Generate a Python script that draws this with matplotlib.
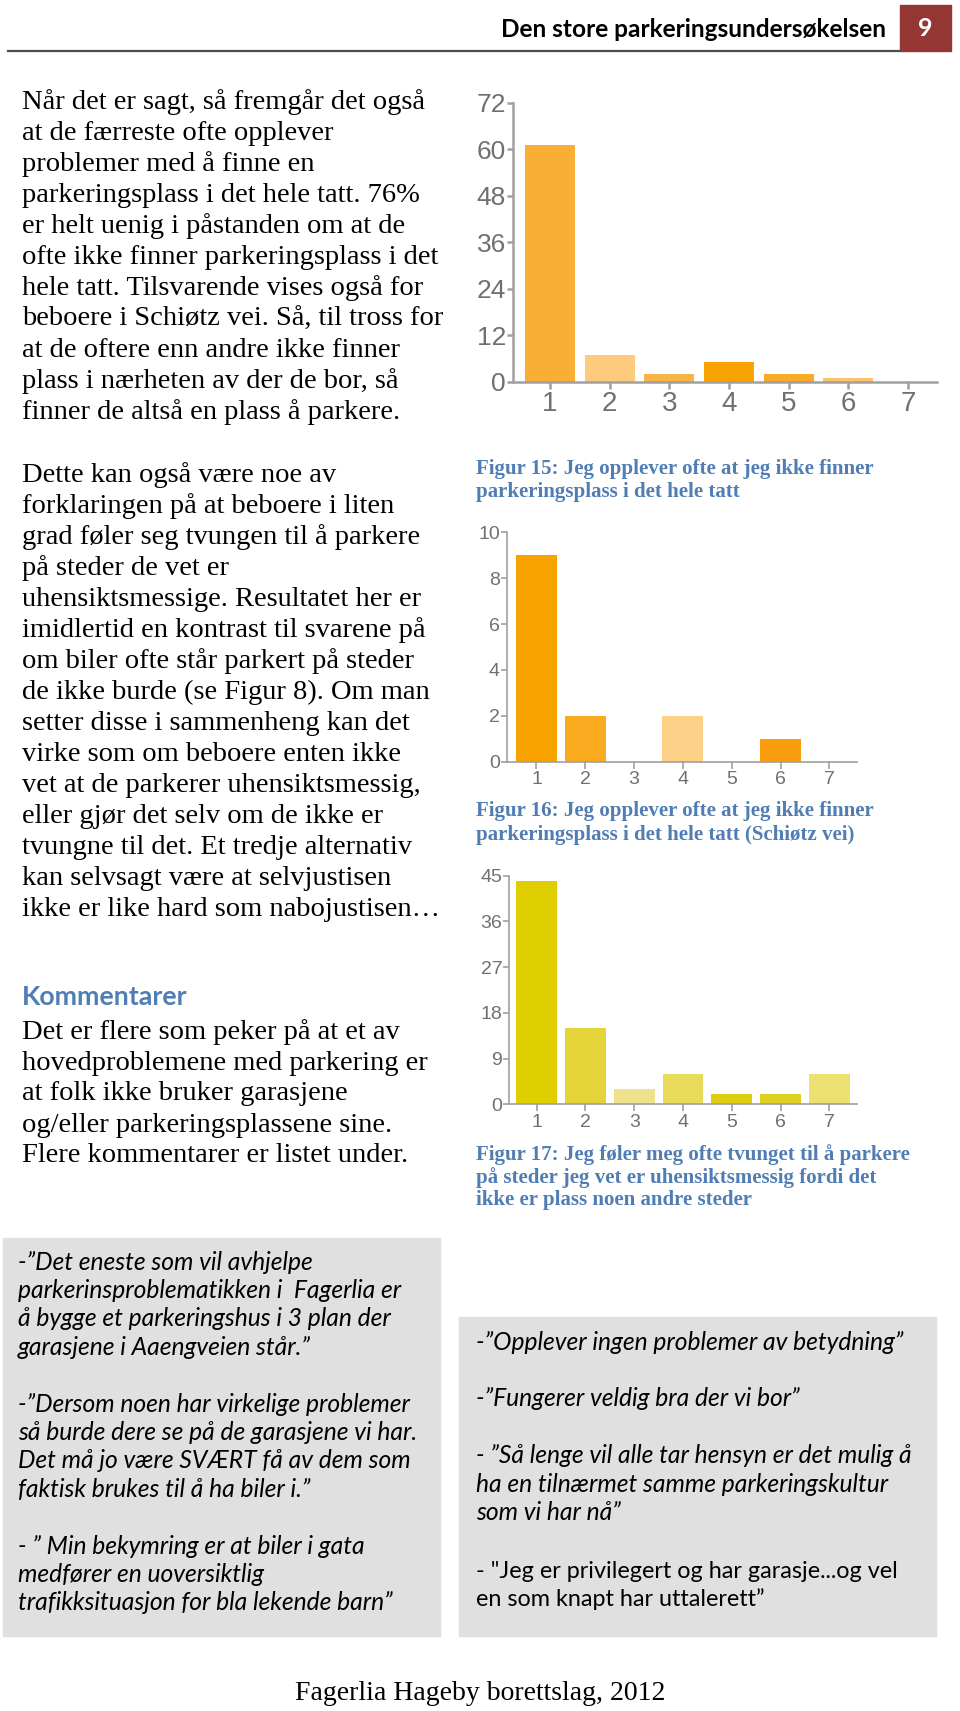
import matplotlib.pyplot as plt
from matplotlib.patches import Rectangle

# Data: number of answers on the 1-7 scale
scale = [1, 2, 3, 4, 5, 6, 7]
fig15_counts = [61, 7, 2, 5, 2, 1, 0]
fig16_counts = [9, 2, 0, 2, 0, 1, 0]
fig17_counts = [44, 15, 3, 6, 2, 2, 6]
fig15_ticks = [0, 12, 24, 36, 48, 60, 72]
fig16_ticks = [0, 2, 4, 6, 8, 10]
fig17_ticks = [0, 9, 18, 27, 36, 45]

fig15_colors = ['#F9AE36', '#FECB7C', '#F9B448', '#F8A203', '#F9AB26', '#FBC46C', '#FBC46C']
fig16_colors = ['#F9A300', '#F9AA1E', '#F9A300', '#FDD088', '#F9A300', '#F99D0E', '#F9A300']
fig17_colors = ['#DFCF00', '#E4D43A', '#EEE38A', '#E8DB5A', '#DFCE10', '#E0D020', '#EBE070']

para1 = ['Når det er sagt, så fremgår det også',
         'at de færreste ofte opplever',
         'problemer med å finne en',
         'parkeringsplass i det hele tatt. 76%',
         'er helt uenig i påstanden om at de',
         'ofte ikke finner parkeringsplass i det',
         'hele tatt. Tilsvarende vises også for',
         'beboere i Schiøtz vei. Så, til tross for',
         'at de oftere enn andre ikke finner',
         'plass i nærheten av der de bor, så',
         'finner de altså en plass å parkere.']
para2 = ['Dette kan også være noe av',
         'forklaringen på at beboere i liten',
         'grad føler seg tvungen til å parkere',
         'på steder de vet er',
         'uhensiktsmessige. Resultatet her er',
         'imidlertid en kontrast til svarene på',
         'om biler ofte står parkert på steder',
         'de ikke burde (se Figur 8). Om man',
         'setter disse i sammenheng kan det',
         'virke som om beboere enten ikke',
         'vet at de parkerer uhensiktsmessig,',
         'eller gjør det selv om de ikke er',
         'tvungne til det. Et tredje alternativ',
         'kan selvsagt være at selvjustisen',
         'ikke er like hard som nabojustisen…']
para3 = ['Det er flere som peker på at et av',
         'hovedproblemene med parkering er',
         'at folk ikke bruker garasjene',
         'og/eller parkeringsplassene sine.',
         'Flere kommentarer er listet under.']

cap15 = ['Figur 15: Jeg opplever ofte at jeg ikke finner',
         'parkeringsplass i det hele tatt']
cap16 = ['Figur 16: Jeg opplever ofte at jeg ikke finner',
         'parkeringsplass i det hele tatt (Schiøtz vei)']
cap17 = ['Figur 17: Jeg føler meg ofte tvunget til å parkere',
         'på steder jeg vet er uhensiktsmessig fordi det',
         'ikke er plass noen andre steder']

left_quotes = ['-”Det eneste som vil avhjelpe',
               'parkerinsproblematikken i  Fagerlia er',
               'å bygge et parkeringshus i 3 plan der',
               'garasjene i Aaengveien står.”',
               '',
               '-”Dersom noen har virkelige problemer',
               'så burde dere se på de garasjene vi har.',
               'Det må jo være SVÆRT få av dem som',
               'faktisk brukes til å ha biler i.”',
               '',
               '- ” Min bekymring er at biler i gata',
               'medfører en uoversiktlig',
               'trafikksituasjon for bla lekende barn”']
right_quotes = ['-”Opplever ingen problemer av betydning”',
                '',
                '-”Fungerer veldig bra der vi bor”',
                '',
                '- ”Så lenge vil alle tar hensyn er det mulig å',
                'ha en tilnærmet samme parkeringskultur',
                'som vi har nå”',
                '',
                '- "Jeg er privilegert og har garasje...og vel',
                'en som knapt har uttalerett”']

W, H = 960, 1711
fig = plt.figure(figsize=(W / 100, H / 100), dpi=100)

# page layer in pixel coordinates
page = fig.add_axes([0, 0, 1, 1])
page.set_xlim(0, W)
page.set_ylim(H, 0)
page.axis('off')

serif = 'Liberation Serif'
sans = 'Lato'
blue = '#4F7DB4'

# header
page.text(886, 29, 'Den store parkeringsundersøkelsen', ha='right', va='center',
          fontfamily=sans, fontweight='bold', fontsize=17.6, color='black')
page.add_patch(Rectangle((900, 5), 51, 46, color='#943634'))
page.text(925.5, 28, '9', ha='center', va='center', color='white',
          fontfamily=sans, fontweight='bold', fontsize=18)
page.plot([8, 900], [51, 51], color='#4d4d4d', lw=1.6)


def write_lines(lines, x, y0, step, **kw):
    for i, line in enumerate(lines):
        page.text(x, y0 + i * step, line, ha='left', va='center', **kw)


body = dict(fontfamily=serif, fontsize=20.5, color='black')
write_lines(para1, 22, 102, 31, **body)
write_lines(para2, 22, 475, 31.07, **body)
page.text(22, 997, 'Kommentarer', ha='left', va='center', fontfamily=sans,
          fontweight='bold', fontsize=19.3, color=blue)
write_lines(para3, 22, 1032, 31, **body)

cap = dict(fontfamily=serif, fontweight='bold', fontsize=15, color=blue)
write_lines(cap15, 476, 469, 23, **cap)
write_lines(cap16, 476, 811, 23.5, **cap)
write_lines(cap17, 476, 1155, 22.5, **cap)

# comment boxes
page.add_patch(Rectangle((3, 1238), 437, 398, color='#E0E0E0'))
page.add_patch(Rectangle((459, 1317), 477, 319, color='#E0E0E0'))
quote = dict(fontfamily=sans, fontstyle='italic', fontsize=17.7, color='black')
write_lines(left_quotes, 18, 1262, 28.4, **quote)
write_lines(right_quotes[:8], 476, 1342, 28.4, **quote)
write_lines(right_quotes[8:], 476, 1571, 28.4, fontfamily=sans, fontsize=16.8, color='black')

page.text(480, 1694, 'Fagerlia Hageby borettslag, 2012', ha='center', va='center',
          fontfamily=serif, fontsize=20, color='black')


def bar_chart(box, counts, ticks, colors, xlim, ysize, xsize, lw):
    x0, y0, x1, y1 = box
    ax = fig.add_axes([x0 / W, 1 - y1 / H, (x1 - x0) / W, (y1 - y0) / H])
    ax.patch.set_alpha(0)
    ax.bar(scale, counts, width=0.84, color=colors)
    ax.set_xlim(*xlim)
    ax.set_ylim(0, ticks[-1])
    ax.set_yticks(ticks)
    ax.set_xticks(scale)
    for s in ['top', 'right']:
        ax.spines[s].set_visible(False)
    for s in ['left', 'bottom']:
        ax.spines[s].set_color('#a0a0a0')
        ax.spines[s].set_linewidth(lw)
    ax.tick_params(axis='y', color='#a0a0a0', labelcolor='#707070', length=4,
                   width=lw, pad=1, labelsize=ysize)
    ax.tick_params(axis='x', color='#a0a0a0', labelcolor='#707070', length=5,
                   width=lw, pad=2, labelsize=xsize)
    for lab in ax.get_xticklabels() + ax.get_yticklabels():
        lab.set_fontfamily('Liberation Sans')
    return ax


bar_chart((513, 102.7, 936.7, 381.7), fig15_counts, fig15_ticks, fig15_colors,
          (0.38, 7.48), 19, 20, 1.8)
bar_chart((506.7, 532.3, 856.7, 761.7), fig16_counts, fig16_ticks, fig16_colors,
          (0.39, 7.56), 14, 14, 1.2)
bar_chart((509.3, 875.7, 856.7, 1104.3), fig17_counts, fig17_ticks, fig17_colors,
          (0.44, 7.56), 14, 14, 1.2)

fig.savefig('out.png', dpi=100)
